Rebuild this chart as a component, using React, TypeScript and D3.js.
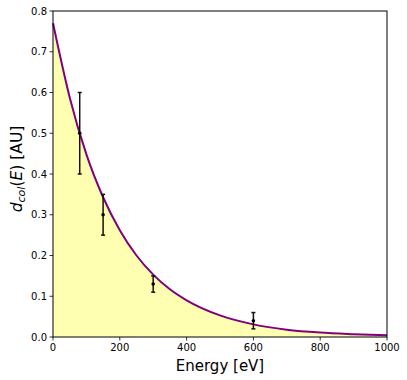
import React from "react";
import * as d3 from "d3";

const curveX = [0, 50, 100, 150, 200, 250, 300, 350, 400, 500, 600, 700, 800, 900, 1000];
const curveY = [0.77, 0.588, 0.448, 0.343, 0.262, 0.2, 0.153, 0.117, 0.09, 0.053, 0.031, 0.018, 0.011, 0.007, 0.004];

const pointX = [80, 150, 300, 600];
const pointY = [0.5, 0.3, 0.13, 0.04];
const pointErr = [0.1, 0.05, 0.02, 0.02];

const xTicks = [0, 200, 400, 600, 800, 1000];
const yTicks = [0, 0.1, 0.2, 0.3, 0.4, 0.5, 0.6, 0.7, 0.8];

export default function App() {
  const W = 407, H = 380;
  const left = 53, right = 387, top = 11, bottom = 337;
  const x = d3.scaleLinear().domain([0, 1000]).range([left, right]);
  const y = d3.scaleLinear().domain([0, 0.8]).range([bottom, top]);
  const pts: [number, number][] = curveX.map((v, i) => [v, curveY[i]]);
  const line = d3.line<[number, number]>().x(d => x(d[0])).y(d => y(d[1])).curve(d3.curveMonotoneX);
  const area = d3.area<[number, number]>().x(d => x(d[0])).y0(y(0)).y1(d => y(d[1])).curve(d3.curveMonotoneX);
  const font = "DejaVu Sans, sans-serif";
  return (
    <svg width={W} height={H} style={{ position: "absolute", left: 0, top: 0, background: "#fff" }}>
      <path d={area(pts) || ""} fill="#ffffb2" stroke="none" />
      <path d={line(pts) || ""} fill="none" stroke="#800080" strokeWidth={2} />
      {pointX.map((px, i) => {
        const cx = x(px);
        const y1 = y(pointY[i] + pointErr[i]);
        const y2 = y(pointY[i] - pointErr[i]);
        return (
          <g key={i} stroke="#111" strokeWidth={1.5}>
            <line x1={cx} x2={cx} y1={y1} y2={y2} />
            <line x1={cx - 2} x2={cx + 2} y1={y1} y2={y1} />
            <line x1={cx - 2} x2={cx + 2} y1={y2} y2={y2} />
            <circle cx={cx} cy={y(pointY[i])} r={1.8} fill="#000" stroke="none" />
          </g>
        );
      })}
      <rect x={left} y={top} width={right - left} height={bottom - top} fill="none" stroke="#000" strokeWidth={1} />
      {xTicks.map(t => (
        <g key={t}>
          <line x1={x(t)} x2={x(t)} y1={bottom} y2={bottom + 3.5} stroke="#000" strokeWidth={0.8} />
          <text x={x(t)} y={bottom + 14} fontSize={10} fontFamily={font} textAnchor="middle" fill="#000">{t}</text>
        </g>
      ))}
      {yTicks.map(t => (
        <g key={t}>
          <line x1={left - 3.5} x2={left} y1={y(t)} y2={y(t)} stroke="#000" strokeWidth={0.8} />
          <text x={left - 6} y={y(t) + 3.5} fontSize={10} fontFamily={font} textAnchor="end" fill="#000">{t.toFixed(1)}</text>
        </g>
      ))}
      <text x={(left + right) / 2} y={371} fontSize={15} fontFamily={font} textAnchor="middle" fill="#000">Energy [eV]</text>
      <text transform={`translate(22, 169) rotate(-90)`} fontSize={15.5} fontFamily={font} textAnchor="middle" fill="#000">
        <tspan fontStyle="italic">d</tspan>
        <tspan fontStyle="italic" fontSize={11} dy={3}>col</tspan>
        <tspan dy={-3}>(</tspan>
        <tspan fontStyle="italic">E</tspan>
        <tspan>) [AU]</tspan>
      </text>
    </svg>
  );
}
